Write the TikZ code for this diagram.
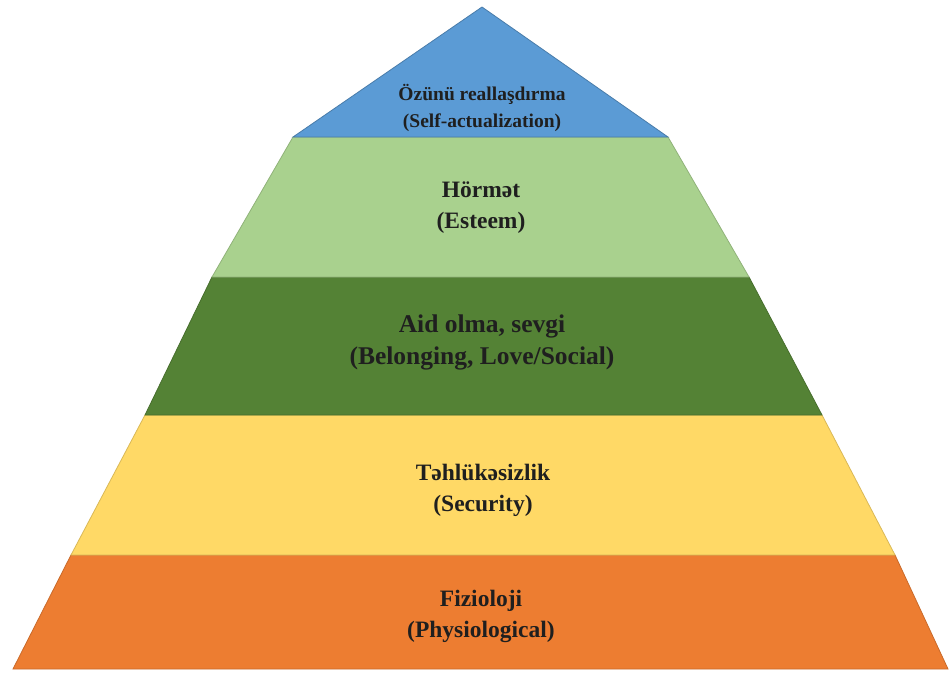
\documentclass[tikz,border=0pt]{standalone}
\usepackage{fontspec}
\setmainfont{LiberationSerif}[Extension=.ttf,UprightFont=*-Regular,BoldFont=*-Bold]
\usepackage{tikz}
\definecolor{selfblue}{HTML}{5B9BD5}
\definecolor{esteemgreen}{HTML}{A9D18E}
\definecolor{lovegreen}{HTML}{548235}
\definecolor{safeyellow}{HTML}{FFD966}
\definecolor{physorange}{HTML}{ED7D31}
\tikzset{
  band/.style={line width=0.8pt,line join=miter},
  level/.style={align=center,text=black!88,font=\bfseries\fontsize{23.5}{31}\selectfont},
  toplevel/.style={level,font=\bfseries\fontsize{19.5}{27}\selectfont},
  biglevel/.style={level,font=\bfseries\fontsize{25.5}{32}\selectfont}
}

\begin{document}
\begin{tikzpicture}[x=1pt,y=-1pt]
  \useasboundingbox (0,0) rectangle (949,672);
  \filldraw[band,fill=physorange,draw=physorange!85!black] (71,555) -- (895,555) -- (948,669) -- (13,669) -- cycle;
  \filldraw[band,fill=safeyellow,draw=safeyellow!85!black] (145,415) -- (822,415) -- (895,555) -- (71,555) -- cycle;
  \filldraw[band,fill=lovegreen,draw=lovegreen!85!black] (212,277) -- (749,277) -- (822,415) -- (145,415) -- cycle;
  \filldraw[band,fill=esteemgreen,draw=esteemgreen!85!black] (293,137) -- (668,137) -- (749,277) -- (212,277) -- cycle;
  \filldraw[band,fill=selfblue,draw=selfblue!80!black] (482,7) -- (668,137) -- (293,137) -- cycle;
  \node[toplevel] (self) at (482,108) {Özünü reallaşdırma\\(Self-actualization)};
  \node[level] (esteem) at (481,208) {Hörmət\\(Esteem)};
  \node[biglevel] (love) at (482,342) {Aid olma, sevgi\\(Belonging, Love/Social)};
  \node[level] (safety) at (483,490) {Təhlükəsizlik\\(Security)};
  \node[level] (physio) at (481,616) {Fizioloji\\(Physiological)};
\end{tikzpicture}
\end{document}
